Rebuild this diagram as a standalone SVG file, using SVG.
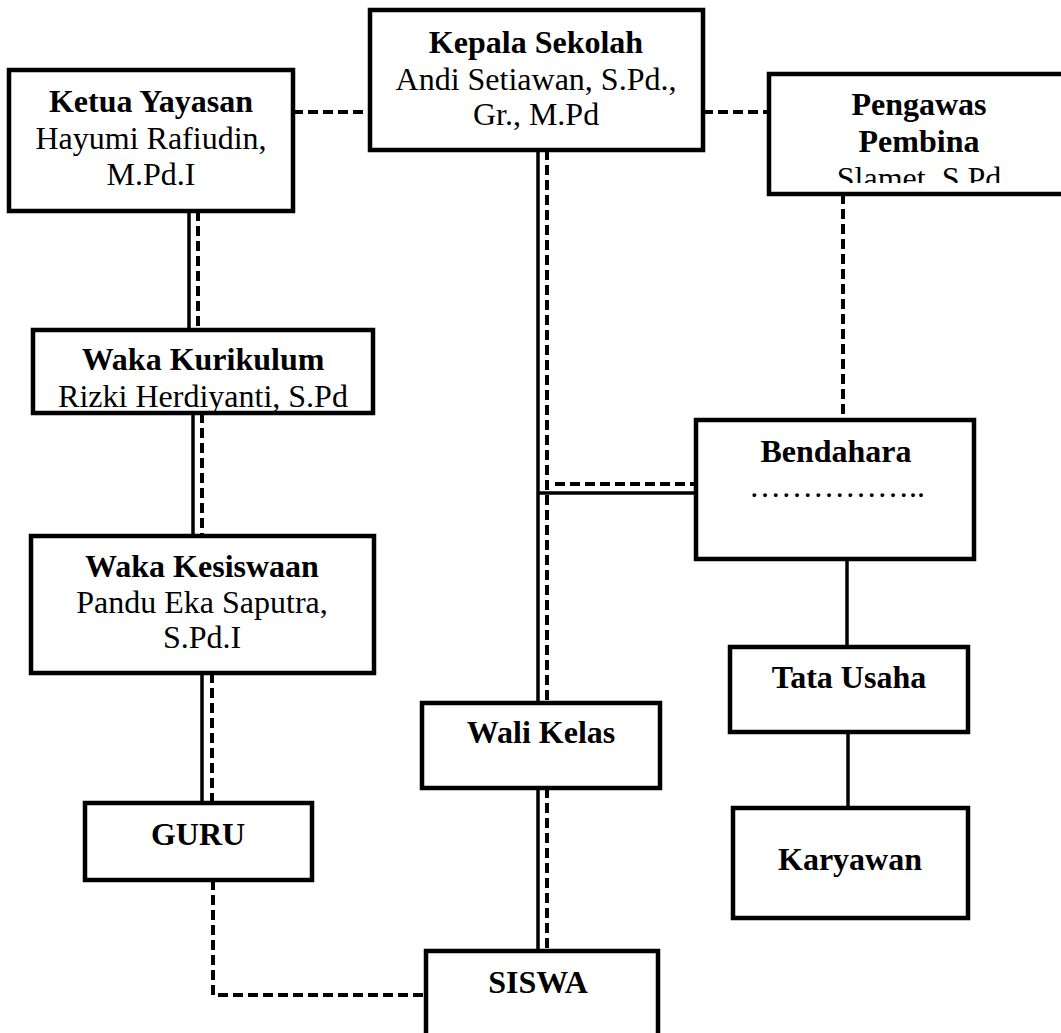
<svg xmlns="http://www.w3.org/2000/svg" width="1061" height="1033" viewBox="0 0 1061 1033">
<style>
.box{fill:#fff;stroke:#000;stroke-width:4.5}
.t{font-family:"Liberation Serif","Times New Roman",serif;font-size:32px;fill:#000;text-anchor:middle}
.b{font-weight:bold}
.s{fill:none;stroke:#000;stroke-width:3.5}
.d{fill:none;stroke:#000;stroke-width:4;stroke-dasharray:10 5}
</style>
<defs>
<clipPath id="clipPeng"><rect x="771" y="76" width="300" height="107"/></clipPath>
</defs>
<rect width="1061" height="1033" fill="#fff"/>
<g id="connectors">
<line class="d" x1="293" y1="112" x2="370" y2="112"/>
<line class="d" x1="703" y1="112" x2="769" y2="112"/>
<line class="s" x1="189" y1="211" x2="189" y2="330"/>
<line class="d" x1="198" y1="211" x2="198" y2="330"/>
<line class="s" x1="193" y1="413" x2="193" y2="536"/>
<line class="d" x1="202" y1="413" x2="202" y2="536"/>
<line class="s" x1="202" y1="673" x2="202" y2="803"/>
<line class="d" x1="212" y1="673" x2="212" y2="803"/>
<path class="d" d="M213 880 V995 H426"/>
<line class="s" x1="538" y1="150" x2="538" y2="703"/>
<line class="d" x1="547" y1="150" x2="547" y2="703"/>
<line class="s" x1="538" y1="788" x2="538" y2="951"/>
<line class="d" x1="547" y1="788" x2="547" y2="951"/>
<line class="s" x1="538" y1="493" x2="696" y2="493"/>
<line class="d" x1="555" y1="484" x2="696" y2="484"/>
<line class="d" x1="843" y1="194" x2="843" y2="420"/>
<line class="s" x1="847" y1="559" x2="847" y2="647"/>
<line class="s" x1="848" y1="732" x2="848" y2="808"/>
</g>
<g id="ketua">
<rect class="box" x="9" y="70" width="284" height="141"/>
<text class="t b" x="151" y="112">Ketua Yayasan</text>
<text class="t" x="151" y="149">Hayumi Rafiudin,</text>
<text class="t" x="151" y="185">M.Pd.I</text>
</g>
<g id="kepala">
<rect class="box" x="370" y="10" width="333" height="140"/>
<text class="t b" x="536" y="53">Kepala Sekolah</text>
<text class="t" x="536" y="90">Andi Setiawan, S.Pd.,</text>
<text class="t" x="536" y="125">Gr., M.Pd</text>
</g>
<g id="pengawas">
<rect class="box" x="769" y="74" width="300" height="120"/>
<g clip-path="url(#clipPeng)">
<text class="t b" x="919" y="115">Pengawas</text>
<text class="t b" x="919" y="152">Pembina</text>
<text class="t" x="919" y="189">Slamet, S.Pd</text>
</g>
</g>
<g id="waka-kurikulum">
<rect class="box" x="33" y="330" width="340" height="83"/>
<text class="t b" x="203" y="370">Waka Kurikulum</text>
<text class="t" x="203" y="407">Rizki Herdiyanti, S.Pd</text>
</g>
<g id="waka-kesiswaan">
<rect class="box" x="31" y="536" width="343" height="137"/>
<text class="t b" x="202" y="577">Waka Kesiswaan</text>
<text class="t" x="202" y="613">Pandu Eka Saputra,</text>
<text class="t" x="202" y="648">S.Pd.I</text>
</g>
<g id="guru">
<rect class="box" x="85" y="803" width="227" height="77"/>
<text class="t b" x="198" y="845">GURU</text>
</g>
<g id="wali-kelas">
<rect class="box" x="422" y="703" width="238" height="85"/>
<text class="t b" x="541" y="743">Wali Kelas</text>
</g>
<g id="siswa">
<rect class="box" x="426" y="951" width="232" height="100"/>
<text class="t b" x="538" y="993">SISWA</text>
</g>
<g id="bendahara">
<rect class="box" x="696" y="420" width="278" height="139"/>
<text class="t b" x="836" y="462">Bendahara</text>
<text class="t" x="837" y="497">……………..</text>
</g>
<g id="tata-usaha">
<rect class="box" x="730" y="647" width="238" height="85"/>
<text class="t b" x="849" y="688">Tata Usaha</text>
</g>
<g id="karyawan">
<rect class="box" x="733" y="808" width="235" height="110"/>
<text class="t b" x="850" y="870">Karyawan</text>
</g>
</svg>
